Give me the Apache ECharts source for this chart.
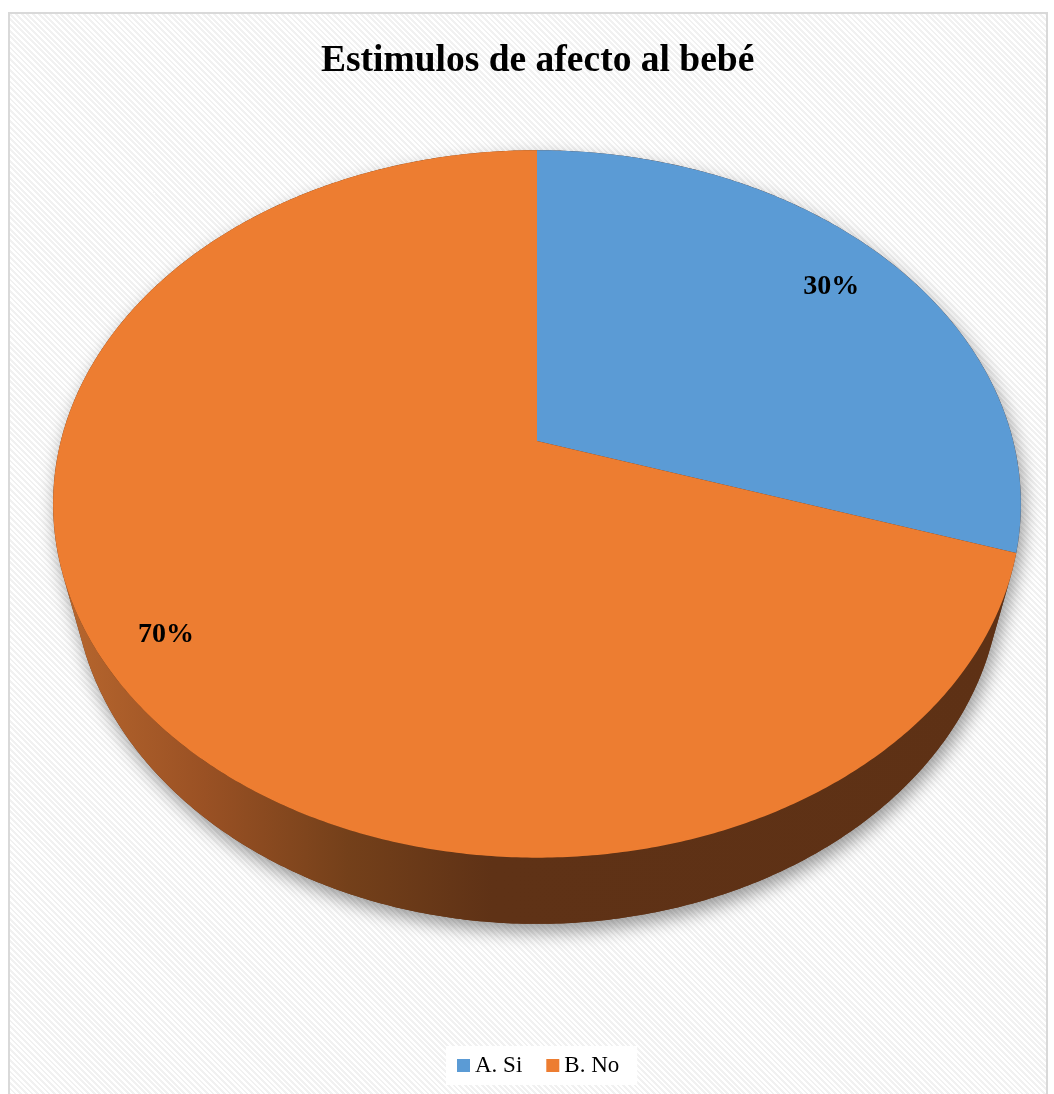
<!DOCTYPE html>
<html>
<head>
<meta charset="utf-8">
<title>Estimulos de afecto al bebé</title>
<script src="https://cdn.jsdelivr.net/npm/echarts@6/dist/echarts.min.js"></script>
<style>
  html, body { margin: 0; padding: 0; background: #fff; }
  #frame {
    position: absolute; left: 8px; top: 12px; width: 1036px; height: 1090px;
    border: 2px solid #d9d9d9;
    background: repeating-linear-gradient(45deg, #ffffff 0px, #ffffff 2px, #f1f1f1 2px, #f1f1f1 4px);
  }
  #chart { position: absolute; left: 0; top: 0; width: 1054px; height: 1094px; }
</style>
</head>
<body>
<div id="frame"></div>
<div id="chart"></div>
<script>
// datos
const categories = ['A. Si', 'B. No'];
const values = [30, 70];
const sliceColors = ['#5B9BD5', '#ED7D31'];
const labelRadius = [0.83, 0.875];

const total = values.reduce((a, b) => a + b, 0);

// vista 3D en perspectiva (como el grafico de Excel)
const CX = 537, CY = 441, F = 1859, D0 = 3.904, H = 0.225;
const TILT = 46 * Math.PI / 180;
const sinT = Math.sin(TILT), cosT = Math.cos(TILT);
const PHI_S = Math.acos(-1 / (D0 * cosT)); // borde visible del lateral

function proj(phi, r, z) {
  const x = r * Math.sin(phi), y = r * Math.cos(phi);
  const d = D0 + y * cosT - z * sinT;
  const u = y * sinT + z * cosT;
  return [CX + F * x / d, CY - F * u / d];
}

function arc(a1, a2, r, z) {
  const pts = [];
  const n = Math.max(2, Math.ceil(Math.abs(a2 - a1) / (Math.PI / 360)));
  for (let k = 0; k <= n; k++) pts.push(proj(a1 + (a2 - a1) * k / n, r, z));
  return pts;
}

function startAngle(i) {
  let s = 0;
  for (let k = 0; k < i; k++) s += values[k];
  return s / total * 2 * Math.PI;
}

const wallFill = {
  type: 'linear', x: 60, y: 0, x2: 1020, y2: 0, global: true,
  colorStops: [
    { offset: 0, color: '#b8672e' },
    { offset: 0.15, color: '#9a5124' },
    { offset: 0.3, color: '#74401a' },
    { offset: 0.45, color: '#5f3216' },
    { offset: 1, color: '#5e3115' }
  ]
};

function renderShadow() {
  const pts = arc(2 * Math.PI - PHI_S, 2 * Math.PI + PHI_S, 1, 0)
    .concat(arc(PHI_S, 2 * Math.PI - PHI_S, 1, -H));
  return {
    type: 'polygon', shape: { points: pts }, z2: 0,
    style: { fill: '#5e3115', shadowBlur: 18, shadowColor: 'rgba(0,0,0,0.4)', shadowOffsetX: 3, shadowOffsetY: 8 }
  };
}

function renderSlice(i) {
  return function (params, api) {
    const v = api.value(0);
    const a1 = startAngle(i), a2 = a1 + v / total * 2 * Math.PI;
    const children = [];
    const top = [proj(0, 0, 0)].concat(arc(a1, a2, 1, 0));
    children.push({ type: 'polygon', shape: { points: top }, style: { fill: sliceColors[i] }, z2: 10 });
    const w1 = Math.max(a1, PHI_S), w2 = Math.min(a2, 2 * Math.PI - PHI_S);
    if (w2 > w1) {
      const wall = arc(w1, w2, 1, 0).concat(arc(w2, w1, 1, -H));
      children.push({ type: 'polygon', shape: { points: wall }, style: { fill: wallFill }, z2: 5 });
    }
    const mid = (a1 + a2) / 2;
    const p = proj(mid, labelRadius[i], 0);
    children.push({
      type: 'text', x: p[0], y: p[1], z2: 20,
      style: {
        text: Math.round(v / total * 100) + '%',
        fill: '#000', align: 'center', verticalAlign: 'middle',
        font: 'bold 28px "Liberation Serif", "Times New Roman", serif'
      }
    });
    return { type: 'group', children: children };
  };
}

const chart = echarts.init(document.getElementById('chart'));

const series = [{
  name: 'sombra', type: 'custom', coordinateSystem: 'none', silent: true,
  data: [0], renderItem: renderShadow
}];
categories.forEach((c, i) => {
  series.push({
    name: c, type: 'custom', coordinateSystem: 'none',
    itemStyle: { color: sliceColors[i] },
    data: [values[i]], renderItem: renderSlice(i)
  });
});

chart.setOption({
  animation: false,
  backgroundColor: 'transparent',
  title: {
    text: 'Estimulos de afecto al bebé',
    left: 316, top: 37,
    textStyle: { fontFamily: 'Liberation Serif', fontWeight: 'bold', fontSize: 37.5, color: '#000' }
  },
  legend: {
    data: categories,
    top: 1046, left: 446,
    icon: 'rect', itemWidth: 13, itemHeight: 13, itemGap: 24,
    backgroundColor: '#fff', padding: [8, 18, 8, 11],
    textStyle: { fontFamily: 'Liberation Serif', fontSize: 23, color: '#000' }
  },
  series: series
});
</script>
</body>
</html>
